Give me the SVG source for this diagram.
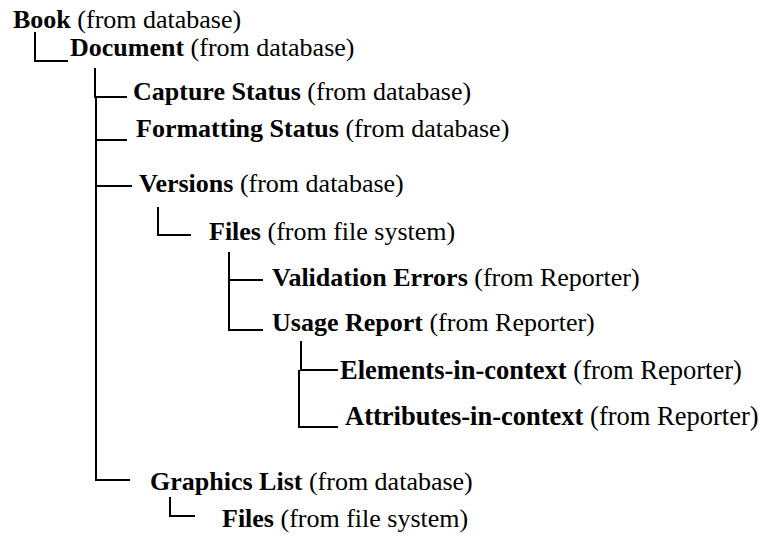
<svg xmlns="http://www.w3.org/2000/svg" width="761" height="537" viewBox="0 0 761 537">
<style>
.t{font-family:'Liberation Serif','Times New Roman','DejaVu Serif',serif;font-size:26px;fill:#000}
.w{font-size:26.5px}
.b{font-weight:bold}
.c{fill:none;stroke:#000;stroke-width:2}
</style>
<rect width="761" height="537" fill="#fff"/>
<g id="connectors">
<path class="c" d="M35 32V61H68"/>
<path class="c" d="M95 68V97H127"/>
<path class="c" d="M96 97V480H130"/>
<path class="c" d="M96 140H127"/>
<path class="c" d="M96 186H132"/>
<path class="c" d="M158 207V235H191"/>
<path class="c" d="M229 252V330H263"/>
<path class="c" d="M229 280H263"/>
<path class="c" d="M301 341V370H338"/>
<path class="c" d="M299 370V427H338"/>
<path class="c" d="M170 497V516H195"/>
</g>
<g id="book"><text class="t" x="13" y="28"><tspan class="b">Book</tspan> (from database)</text></g>
<g id="document"><text class="t" x="70" y="56"><tspan class="b">Document</tspan> (from database)</text></g>
<g id="capture-status"><text class="t" x="133" y="100"><tspan class="b">Capture Status</tspan> (from database)</text></g>
<g id="formatting-status"><text class="t" x="136" y="137"><tspan class="b">Formatting Status</tspan> (from database)</text></g>
<g id="versions"><text class="t" x="139" y="192"><tspan class="b">Versions</tspan> (from database)</text></g>
<g id="files-versions"><text class="t" x="209" y="240"><tspan class="b">Files</tspan> (from file system)</text></g>
<g id="validation-errors"><text class="t" x="272" y="286"><tspan class="b">Validation Errors</tspan> (from Reporter)</text></g>
<g id="usage-report"><text class="t" x="272" y="331"><tspan class="b">Usage Report</tspan> (from Reporter)</text></g>
<g id="elements-in-context"><text class="t w" x="340" y="379"><tspan class="b">Elements-in-context</tspan> (from Reporter)</text></g>
<g id="attributes-in-context"><text class="t w" x="345" y="425"><tspan class="b">Attributes-in-context</tspan> (from Reporter)</text></g>
<g id="graphics-list"><text class="t" x="150" y="490"><tspan class="b">Graphics List</tspan> (from database)</text></g>
<g id="files-graphics"><text class="t" x="222" y="527"><tspan class="b">Files</tspan> (from file system)</text></g>
</svg>
